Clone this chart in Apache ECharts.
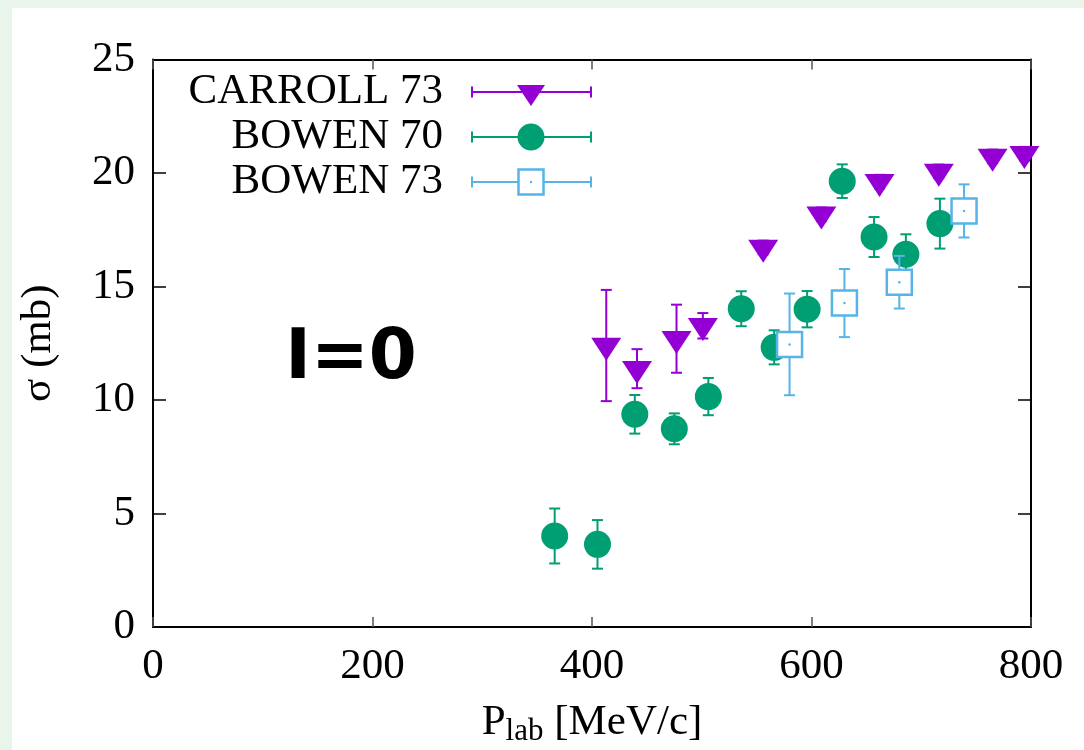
<!DOCTYPE html>
<html>
<head>
<meta charset="utf-8">
<script src="https://cdn.jsdelivr.net/npm/echarts@6/dist/echarts.min.js"></script>
<style>
  html, body { margin: 0; padding: 0; background: #e9f4eb; }
  #panel { position: absolute; left: 12px; top: 8px; right: 0; bottom: 0; background: #fff; }
  #chart { position: absolute; left: 0; top: 0; width: 1084px; height: 750px; }
</style>
</head>
<body>
<div id="panel"></div>
<div id="chart"></div>
<script>
/* ---- data: [P_lab, sigma, error] ---- */
const carroll73 = [
  [413, 12.4, 2.45], [441, 11.38, 0.86], [477, 12.7, 1.5], [501, 13.27, 0.56],
  [556, 16.72, 0.3], [609, 18.18, 0.3], [662, 19.62, 0.3], [716, 20.07, 0.3],
  [765, 20.73, 0.3], [794, 20.85, 0.3]
];
const bowen70 = [
  [366, 4.01, 1.21], [405, 3.64, 1.07], [439, 9.37, 0.85], [475, 8.73, 0.68],
  [506, 10.15, 0.82], [536, 14.02, 0.77], [566, 12.32, 0.75], [596, 14.0, 0.8],
  [628, 19.64, 0.74], [657, 17.18, 0.88], [686, 16.42, 0.88], [717, 17.77, 1.1]
];
const bowen73 = [
  [580, 12.45, 2.24], [630, 14.27, 1.5], [680, 15.19, 1.16], [739, 18.33, 1.17]
];
const seriesNames = ["CARROLL 73", "BOWEN 70", "BOWEN 73"];
const xTicks = [0, 200, 400, 600, 800];
const yTicks = [0, 5, 10, 15, 20, 25];

const C_PURPLE = "#9400d3", C_GREEN = "#009e73", C_BLUE = "#56b4e9";
const SERIF = "Liberation Serif, Times New Roman, serif";
const FS = 43;
const TRI = "path://M0,0 L26,0 L13,20 Z";

/* vertical error bar with caps */
function errBar(color) {
  return (params, api) => {
    const x = api.value(0), y = api.value(1), e = api.value(2);
    const t = api.coord([x, y + e]), b = api.coord([x, y - e]);
    const w = 5.5, st = { stroke: color, lineWidth: 2 };
    return {
      type: "group",
      children: [
        { type: "line", shape: { x1: t[0], y1: t[1], x2: b[0], y2: b[1] }, style: st },
        { type: "line", shape: { x1: t[0] - w, y1: t[1], x2: t[0] + w, y2: t[1] }, style: st },
        { type: "line", shape: { x1: b[0] - w, y1: b[1], x2: b[0] + w, y2: b[1] }, style: st },
      ],
    };
  };
}

/* legend drawn by hand (error bar sample + marker) */
function legendRow(i, color, marker) {
  const y = 92 + i * 45, x0 = 472, x1 = 591, xm = 531;
  const st = { stroke: color, lineWidth: 2 };
  return [
    { type: "text", x: 443, y: y, style: { text: seriesNames[i], font: `${FS}px ${SERIF}`, fill: "#000", align: "right", verticalAlign: "middle" } },
    { type: "line", shape: { x1: x0, y1: y, x2: x1, y2: y }, style: st },
    { type: "line", shape: { x1: x0, y1: y - 5.5, x2: x0, y2: y + 5.5 }, style: st },
    { type: "line", shape: { x1: x1, y1: y - 5.5, x2: x1, y2: y + 5.5 }, style: st },
    marker(xm, y),
  ];
}

const axisLab = { fontFamily: SERIF, fontSize: FS, color: "#000" };
const frameLine = { show: true, onZero: false, lineStyle: { color: "#000", width: 2 } };
const xTick = { inside: true, length: 10, lineStyle: { color: "#555", width: 1.5 } };
const yTick = { inside: true, length: 13, lineStyle: { color: "#000", width: 1.5 } };

const option = {
  backgroundColor: "transparent",
  animation: false,
  grid: { left: 153, right: 53, top: 59.5, bottom: 123, outerBoundsMode: "none" },
  xAxis: [
    {
      type: "value", min: 0, max: 800, interval: 200,
      axisLine: frameLine, axisTick: xTick,
      axisLabel: { ...axisLab, margin: 18 },
      splitLine: { show: false },
      name: "{p|P}{s|lab}{p| [MeV/c]}",
      nameLocation: "middle", nameGap: 74,
      nameTextStyle: {
        rich: {
          p: { fontFamily: SERIF, fontSize: FS, color: "#000", verticalAlign: "top", lineHeight: 46 },
          s: { fontFamily: SERIF, fontSize: 31, color: "#000", verticalAlign: "bottom", lineHeight: 46, padding: [16, 0, 0, 0] },
        },
      },
    },
    {
      type: "value", position: "top", min: 0, max: 800, interval: 200,
      axisLine: frameLine, axisTick: xTick,
      axisLabel: { show: false }, splitLine: { show: false },
    },
  ],
  yAxis: [
    {
      type: "value", min: 0, max: 25, interval: 5,
      axisLine: frameLine, axisTick: yTick,
      axisLabel: { ...axisLab, margin: 18 },
      splitLine: { show: false },
      name: "σ (mb)", nameLocation: "middle", nameRotate: 90, nameGap: 93,
      nameTextStyle: { fontFamily: SERIF, fontSize: FS, color: "#000" },
    },
    {
      type: "value", position: "right", min: 0, max: 25, interval: 5,
      axisLine: frameLine, axisTick: yTick,
      axisLabel: { show: false }, splitLine: { show: false },
    },
  ],
  series: [
    { type: "custom", renderItem: errBar(C_PURPLE), data: carroll73, z: 2 },
    { type: "scatter", data: carroll73, symbol: TRI, symbolSize: [30, 23], symbolOffset: [0, 3.8], itemStyle: { color: C_PURPLE, opacity: 1 }, z: 3 },
    { type: "custom", renderItem: errBar(C_GREEN), data: bowen70, z: 2 },
    { type: "scatter", data: bowen70, symbol: "circle", symbolSize: 27, itemStyle: { color: C_GREEN, opacity: 1 }, z: 3 },
    { type: "custom", renderItem: errBar(C_BLUE), data: bowen73, z: 4 },
    { type: "scatter", data: bowen73, symbol: "rect", symbolSize: 25, itemStyle: { color: "#fff", borderColor: C_BLUE, borderWidth: 2.5, opacity: 1 }, z: 5 },
    { type: "scatter", data: bowen73, symbol: "circle", symbolSize: 2.5, itemStyle: { color: C_BLUE, opacity: 1 }, z: 6 },
  ],
  graphic: [
    ...legendRow(0, C_PURPLE, (x, y) => ({ type: "polygon", shape: { points: [[x - 14, y - 7], [x + 14, y - 7], [x, y + 14]] }, style: { fill: C_PURPLE } })),
    ...legendRow(1, C_GREEN, (x, y) => ({ type: "circle", shape: { cx: x, cy: y, r: 13.5 }, style: { fill: C_GREEN } })),
    ...legendRow(2, C_BLUE, (x, y) => ({ type: "group", children: [
      { type: "rect", shape: { x: x - 12.5, y: y - 12.5, width: 25, height: 25 }, style: { fill: "#fff", stroke: C_BLUE, lineWidth: 2.5 } },
      { type: "circle", shape: { cx: x, cy: y, r: 1.2 }, style: { fill: C_BLUE } },
    ] })),
    { type: "text", x: 351, y: 360, style: { text: "I=0", font: "bold 69px DejaVu Sans, sans-serif", fill: "#000", align: "center", verticalAlign: "middle" } },
  ],
};

const chart = echarts.init(document.getElementById("chart"), null, { renderer: "canvas" });
chart.setOption(option);
</script>
</body>
</html>
